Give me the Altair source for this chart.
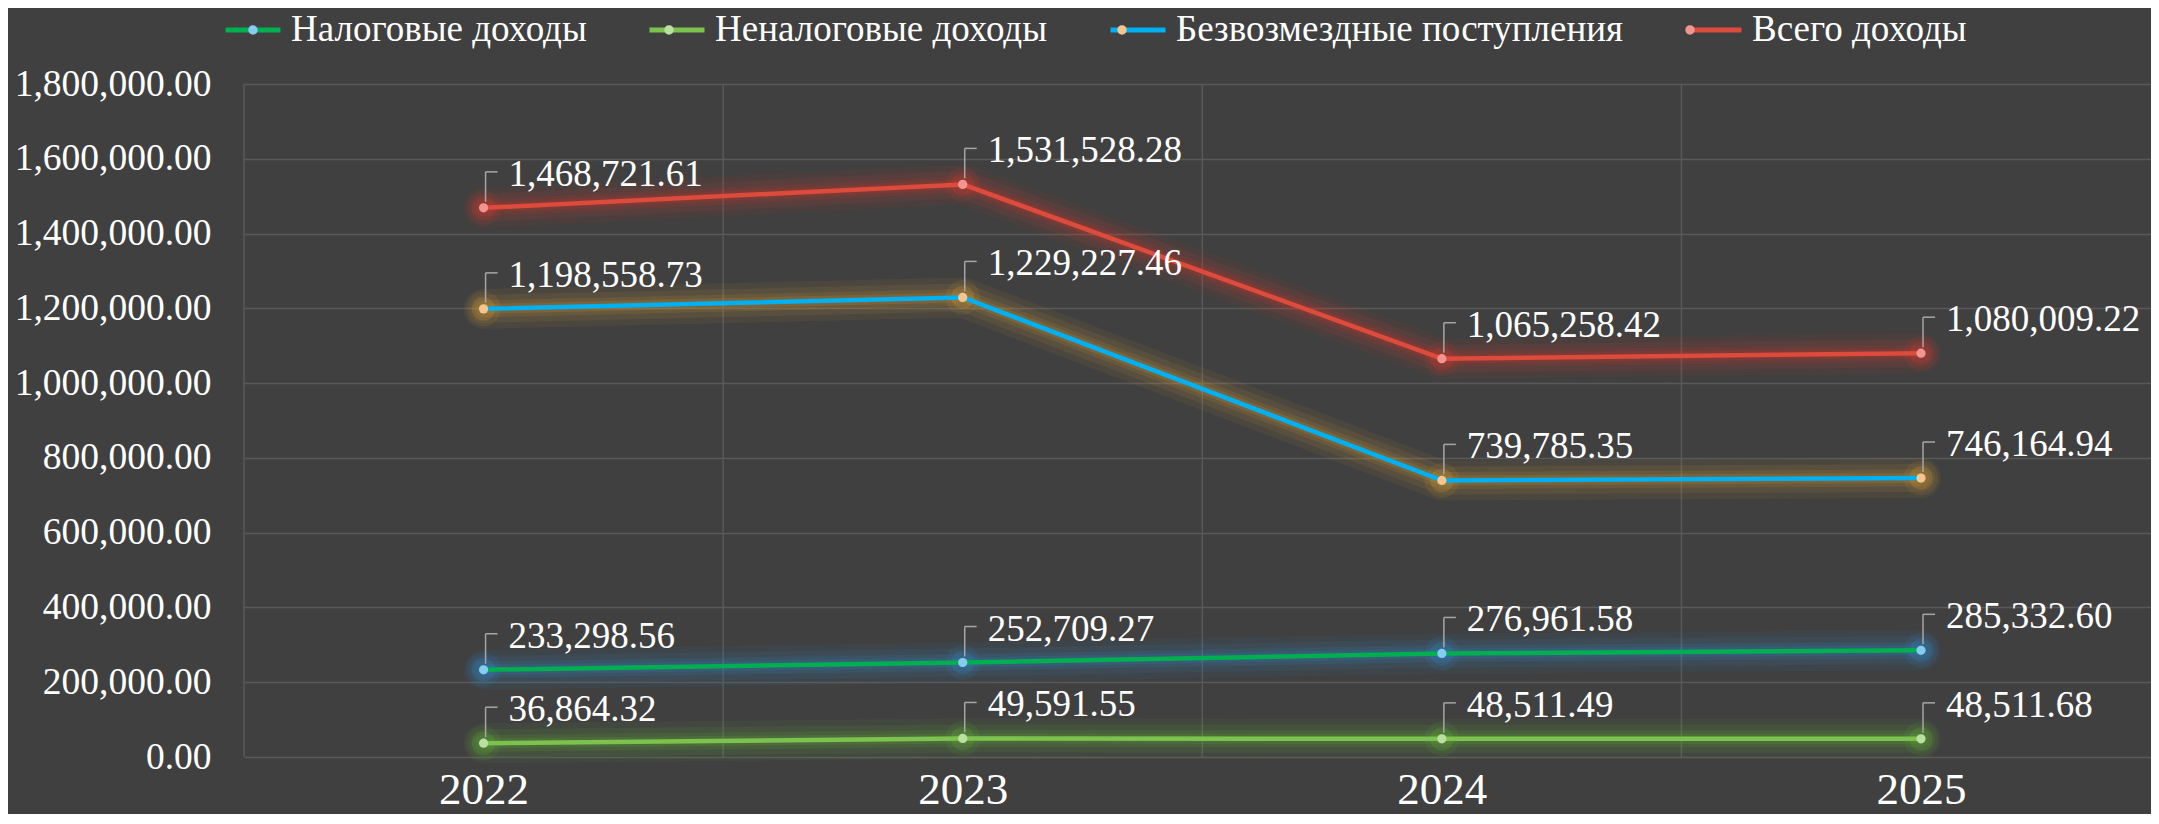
import altair as alt
import pandas as pd

years = [2022, 2023, 2024, 2025]
series_names = ["Налоговые доходы", "Неналоговые доходы", "Безвозмездные поступления", "Всего доходы"]
tax_income = [233298.56, 252709.27, 276961.58, 285332.60]
nontax_income = [36864.32, 49591.55, 48511.49, 48511.68]
grants = [1198558.73, 1229227.46, 739785.35, 746164.94]
total_income = [1468721.61, 1531528.28, 1065258.42, 1080009.22]
y_ticks = [0, 200000, 400000, 600000, 800000, 1000000, 1200000, 1400000, 1600000, 1800000]

line_colors = ["#00B050", "#7DC24E", "#00B0F0", "#DC4B3C"]
marker_colors = ["#86CBF2", "#B9E0A2", "#F6C48E", "#F29490"]
glow_colors = ["#2F92D6", "#62BA34", "#E3A332", "#E2372B"]

FONT = "Liberation Serif"
BG = "#404040"
GRID = "#595959"
ZW = "\u200b"  # keeps the marker legend separate from the line legend

rows = []
for name, vals in zip(series_names, [tax_income, nontax_income, grants, total_income]):
    for yr, v in zip(years, vals):
        rows.append({"year": yr, "series": name, "mseries": name + ZW, "value": v})
df = pd.DataFrame(rows)
bounds = pd.DataFrame({"b": [yr - 0.5 for yr in years]})

x_scale = alt.Scale(domain=[2021.5, 2025.48], nice=False, zero=False)
x_axis = alt.Axis(values=years, format="d", labelFontSize=45, labelFont=FONT,
                  labelColor="#FFFFFF", labelBaseline="alphabetic", labelPadding=46,
                  ticks=False, tickSize=0, domain=False, grid=False, title=None)
y_scale = alt.Scale(domain=[0, 1800000], nice=False)
y_axis = alt.Axis(values=y_ticks, format=",.2f", labelFontSize=37.5, labelFont=FONT,
                  labelColor="#FFFFFF", labelPadding=33, labelLimit=400, ticks=False, tickSize=0,
                  domain=False, grid=True, gridColor=GRID, gridWidth=1.5, title=None)

X = alt.X("year:Q", scale=x_scale, axis=x_axis)
Y = alt.Y("value:Q", scale=y_scale, axis=y_axis)

base = alt.Chart(df)

vgrid = alt.Chart(bounds).mark_rule(color=GRID, strokeWidth=1.5).encode(
    x=alt.X("b:Q", scale=x_scale, axis=x_axis)
)

glows = []
for name, gc in zip(series_names, glow_colors):
    sub = base.transform_filter(alt.datum.series == name)
    for w, o in [(40, 0.07), (28, 0.09), (17, 0.12), (10, 0.15)]:
        glows.append(sub.mark_line(strokeWidth=w, opacity=o, strokeCap="round",
                                   strokeJoin="round", color=gc).encode(x=X, y=Y))
    for s, o in [(1200, 0.10), (550, 0.2)]:
        glows.append(sub.mark_circle(size=s, opacity=o, color=gc).encode(x=X, y=Y))

legend_common = dict(orient="none", direction="horizontal", columns=4, title=None,
                     padding=0, labelFont=FONT, labelFontSize=37, labelOffset=8,
                     columnPadding=52, symbolSize=3025, symbolStrokeWidth=5,
                     labelLimit=1000, legendX=-21, legendY=-84)

lines = base.mark_line(strokeWidth=4.5, strokeJoin="round").encode(
    x=X, y=Y,
    stroke=alt.Stroke("series:N", scale=alt.Scale(domain=series_names, range=line_colors),
                      legend=alt.Legend(symbolType="M-1,0L1,0", labelColor="#FFFFFF",
                                        **legend_common)),
)

lead_v = base.mark_rule(color="#A6A6A6", strokeWidth=1.5, xOffset=2, yOffset=-6, y2Offset=-36).encode(
    x=X, y=Y, y2="value:Q")
lead_h = base.mark_rule(color="#A6A6A6", strokeWidth=1.5, xOffset=2, x2Offset=14, yOffset=-36).encode(
    x=X, x2="year:Q", y=Y)

circ = "M0.17,0A0.17,0.17,0,1,1,-0.17,0A0.17,0.17,0,1,1,0.17,0Z"
markers = base.mark_circle(size=85, opacity=1).encode(
    x=X, y=Y,
    fill=alt.Fill("mseries:N", scale=alt.Scale(domain=[n + ZW for n in series_names], range=marker_colors),
                  legend=alt.Legend(symbolType=circ, symbolStrokeColor="transparent",
                                    labelColor="transparent", symbolOpacity=1,
                                    **legend_common)),
)

labels = base.mark_text(align="left", baseline="middle", dx=25, dy=-33, font=FONT,
                        fontSize=37, color="#FFFFFF").encode(
    x=X, y=Y, text=alt.Text("value:Q", format=",.2f"))

chart = alt.layer(vgrid, *glows, lines, lead_v, lead_h, markers, labels).properties(
    width=1907, height=673,
    padding={"left": 236, "top": 76, "right": 0, "bottom": 57},
    autosize=alt.AutoSizeParams(type="none"),
    background=BG,
).configure_view(stroke=None)

chart.save("out.html", embed_options={"renderer": "svg", "actions": False})
